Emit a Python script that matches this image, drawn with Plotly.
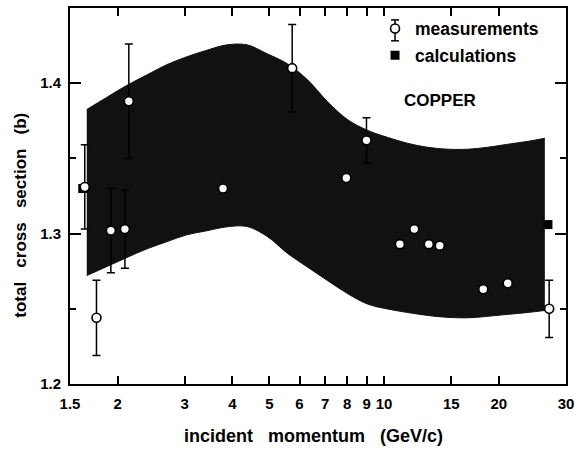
import plotly.graph_objects as go

# Incident momentum (GeV/c) and total cross section (barn) for copper
meas_p = [1.64, 1.76, 1.92, 2.09, 2.14, 3.78, 5.74, 7.96, 8.99,
          11.0, 12.0, 13.1, 14.0, 18.2, 21.1, 27.1]
meas_sigma = [1.331, 1.244, 1.302, 1.303, 1.388, 1.330, 1.410, 1.337, 1.362,
              1.293, 1.303, 1.293, 1.292, 1.263, 1.267, 1.250]
meas_err = [0.028, 0.025, 0.028, 0.026, 0.038, 0.0, 0.029, 0.0, 0.015,
            0.0, 0.0, 0.0, 0.0, 0.0, 0.0, 0.019]

# Calculated values at the ends of the momentum range
calc_p = [1.62, 26.9]
calc_sigma = [1.330, 1.306]

# Uncertainty band of the calculation
band_p = [1.66, 1.87, 2.11, 2.39, 2.69, 3.04, 3.43, 3.87, 4.37, 4.93, 5.57,
          6.29, 7.10, 8.01, 9.04, 10.2, 11.5, 13.0, 14.7, 16.6, 18.7, 21.1,
          23.9, 26.4]
band_hi = [1.3825, 1.3905, 1.3984, 1.4056, 1.4123, 1.4176, 1.4219, 1.4255,
           1.4255, 1.4196, 1.4130, 1.4024, 1.3878, 1.3759, 1.3687, 1.3640,
           1.3601, 1.3574, 1.3561, 1.3561, 1.3574, 1.3594, 1.3614, 1.3634]
band_lo = [1.2721, 1.2780, 1.2840, 1.2899, 1.2946, 1.2992, 1.3019, 1.3045,
           1.3047, 1.2982, 1.2870, 1.2778, 1.2688, 1.2602, 1.2532, 1.2499,
           1.2476, 1.2456, 1.2443, 1.2440, 1.2450, 1.2463, 1.2476, 1.2489]

x_tickvals = [1.5, 2, 3, 4, 5, 6, 7, 8, 9, 10, 15, 20, 30]
x_ticktext = ["1.5", "2", "3", "4", "5", "6", "7", "8", "9", "10", "15", "20", "30"]
y_tickvals = [1.2, 1.3, 1.4]
y_ticktext = ["1.2", "1.3", "1.4"]
y_minor = [1.25, 1.35]

FONT = "Liberation Sans, Arial, Helvetica, sans-serif"
BAND = "#111111"

fig = go.Figure()

fig.add_trace(go.Scatter(
    x=band_p, y=band_lo, mode="lines",
    line=dict(color=BAND, width=1, shape="spline"),
    showlegend=False, hoverinfo="skip"))
fig.add_trace(go.Scatter(
    x=band_p, y=band_hi, mode="lines", fill="tonexty", fillcolor=BAND,
    line=dict(color=BAND, width=1, shape="spline"),
    showlegend=False, hoverinfo="skip"))

fig.add_trace(go.Scatter(
    x=calc_p, y=calc_sigma, mode="markers", name="calculations",
    legendrank=2, legendgroup="calc",
    marker=dict(symbol="square", size=9, color="black")))

fig.add_trace(go.Scatter(
    x=meas_p, y=meas_sigma, mode="markers", name="measurements",
    legendrank=1, legendgroup="meas",
    marker=dict(symbol="circle", size=9, color="white",
                line=dict(color="black", width=1.6)),
    error_y=dict(type="data", array=meas_err, visible=True,
                 color="black", thickness=1.5, width=4)))

axis_common = dict(
    showline=True, linecolor="black", linewidth=2, mirror="ticks",
    ticks="inside", tickcolor="black", tickwidth=1.5,
    showgrid=False, zeroline=False,
    tickfont=dict(family=FONT, size=15, color="black", weight="bold"),
)

fig.update_xaxes(
    type="log", range=[0.17609, 1.47712],
    tickmode="array", tickvals=x_tickvals, ticktext=x_ticktext,
    ticklen=8, ticklabelstandoff=5, **axis_common)
fig.update_yaxes(
    range=[1.2, 1.45],
    tickmode="array", tickvals=y_tickvals, ticktext=y_ticktext,
    ticklen=11, ticklabelstandoff=4,
    minor=dict(tickmode="array", tickvals=y_minor, ticks="inside",
               ticklen=6, tickcolor="black", tickwidth=1.5),
    **axis_common)

NB = "\u00a0"
fig.add_annotation(
    text=f"total{NB*3}cross{NB*3}section{NB*3}(b)",
    xref="paper", yref="paper", x=-0.099, y=0.45, textangle=-90,
    xanchor="center", yanchor="middle", showarrow=False,
    font=dict(family=FONT, size=17, color="black", weight="bold"))
fig.add_annotation(
    text=f"incident{NB*3}momentum{NB*3}(GeV/c)",
    xref="paper", yref="paper", x=0.49, y=-0.138,
    xanchor="center", yanchor="middle", showarrow=False,
    font=dict(family=FONT, size=18, color="black", weight="bold"))
fig.add_annotation(
    text="COPPER",
    xref="paper", yref="paper", x=0.746, y=0.754,
    xanchor="center", yanchor="middle", showarrow=False,
    font=dict(family=FONT, size=17, color="black", weight="bold"))

# Error-bar whisker behind the legend's circle symbol
KEY_X, KEY_TOP, KEY_BOT, KEY_CAP = 0.6553, 0.9683, 0.9127, 0.008
key_line = dict(color="black", width=1.5)
for x0, y0, x1, y1 in [
    (KEY_X, KEY_BOT, KEY_X, KEY_TOP),
    (KEY_X - KEY_CAP, KEY_TOP, KEY_X + KEY_CAP, KEY_TOP),
    (KEY_X - KEY_CAP, KEY_BOT, KEY_X + KEY_CAP, KEY_BOT),
]:
    fig.add_shape(type="line", xref="paper", yref="paper",
                  x0=x0, y0=y0, x1=x1, y1=y1, line=key_line)

fig.update_layout(
    width=581, height=453,
    margin=dict(l=70, r=15, t=6, b=69),
    paper_bgcolor="white", plot_bgcolor="white",
    showlegend=True,
    legend=dict(x=0.615, y=0.993, xanchor="left", yanchor="top",
                bgcolor="rgba(0,0,0,0)", borderwidth=0,
                tracegroupgap=1, itemwidth=30,
                font=dict(family=FONT, size=17.5, color="black", weight="bold")),
)

fig.write_html("out.html")
